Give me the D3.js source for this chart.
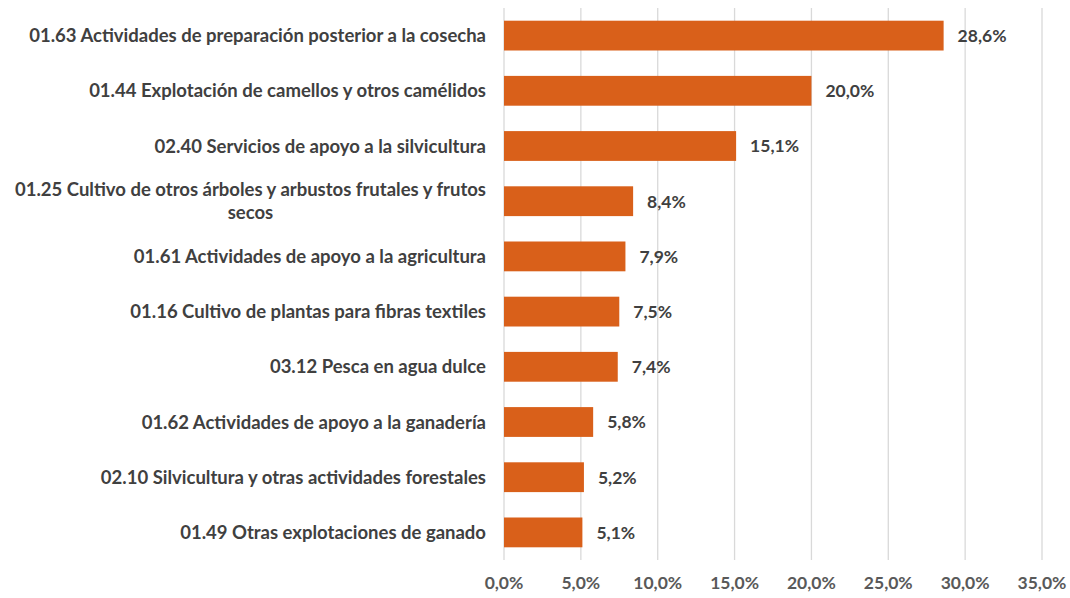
<!DOCTYPE html>
<html><head><meta charset="utf-8">
<script src="https://cdn.jsdelivr.net/npm/d3@7"></script>
<style>body{margin:0;background:#fff}svg{display:block}text{font-family:Lato,"Open Sans",sans-serif;font-weight:bold}</style>
</head><body><svg id="c" width="1070" height="598"></svg>
<script>
const categories = [
  ["01.63 Actividades de preparación posterior a la cosecha"],
  ["01.44 Explotación de camellos y otros camélidos"],
  ["02.40 Servicios de apoyo a la silvicultura"],
  ["01.25 Cultivo de otros árboles y arbustos frutales y frutos", "secos"],
  ["01.61 Actividades de apoyo a la agricultura"],
  ["01.16 Cultivo de plantas para fibras textiles"],
  ["03.12 Pesca en agua dulce"],
  ["01.62 Actividades de apoyo a la ganadería"],
  ["02.10 Silvicultura y otras actividades forestales"],
  ["01.49 Otras explotaciones de ganado"]
];
const values = [28.6, 20.0, 15.1, 8.4, 7.9, 7.5, 7.4, 5.8, 5.2, 5.1];
const tickValues = [0, 5, 10, 15, 20, 25, 30, 35];
const fmt = v => v.toFixed(1).replace(".", ",") + "%";

const svg = d3.select("#c");
const mLeft = 504, mRight = 1042, mTop = 8, mBottom = 560;
const x = d3.scaleLinear().domain([0, 35]).range([mLeft, mRight]);
const y = d3.scaleBand().domain(d3.range(categories.length)).range([mTop, mBottom]).paddingInner(0.46).paddingOuter(0.23);

svg.append("g").selectAll("line").data(tickValues).join("line")
  .attr("x1", d => x(d)).attr("x2", d => x(d)).attr("y1", mTop).attr("y2", mBottom)
  .attr("stroke", "#d9d9d9").attr("stroke-width", 1.3);

svg.append("g").selectAll("rect").data(values).join("rect")
  .attr("x", x(0)).attr("y", (d, i) => y(i)).attr("width", d => x(d) - x(0)).attr("height", y.bandwidth())
  .attr("fill", "#d9601a");

svg.append("g").selectAll("text").data(values).join("text")
  .attr("x", d => x(d) + 14).attr("y", (d, i) => y(i) + y.bandwidth() / 2).attr("dy", "0.36em")
  .attr("font-size", 17.5).attr("fill", "#404040").text(fmt);

const labs = svg.append("g").selectAll("g").data(categories).join("g");
labs.each(function(lines, i) {
  const g = d3.select(this);
  const cy = y(i) + y.bandwidth() / 2;
  const lh = 23;
  const startY = cy - (lines.length - 1) * lh / 2;
  const t0 = g.append("text").attr("x", 486).attr("y", startY).attr("dy", "0.36em")
    .attr("text-anchor", "end").attr("font-size", 18.5).attr("fill", "#404040").text(lines[0]);
  if (lines.length > 1) {
    const w = t0.node().getComputedTextLength();
    g.append("text").attr("x", 486 - w / 2).attr("y", startY + lh).attr("dy", "0.36em")
      .attr("text-anchor", "middle").attr("font-size", 18.5).attr("fill", "#404040").text(lines[1]);
  }
});

svg.append("g").selectAll("text").data(tickValues).join("text")
  .attr("x", d => x(d)).attr("y", 583).attr("dy", "0.36em").attr("text-anchor", "middle")
  .attr("font-size", 17.5).attr("fill", "#595959").text(fmt);
</script></body></html>
